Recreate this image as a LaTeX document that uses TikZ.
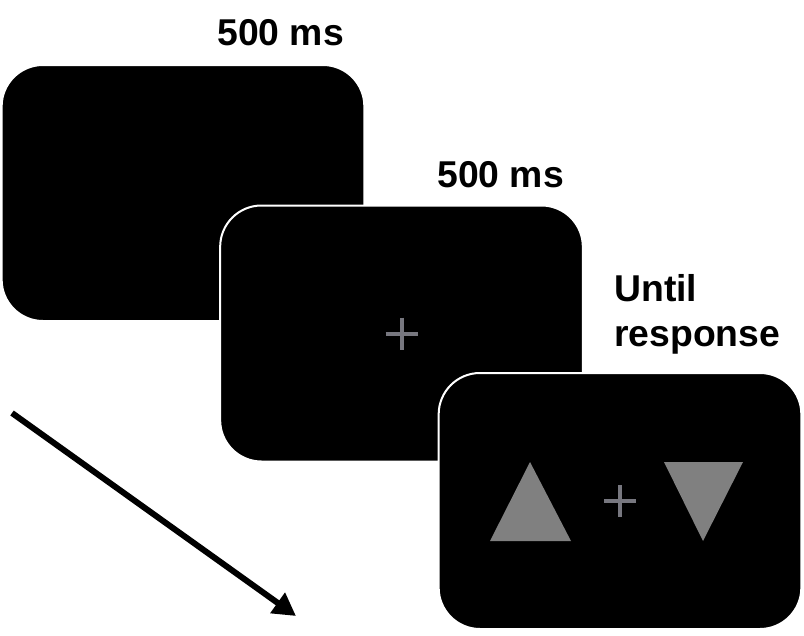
\documentclass[tikz,border=0pt]{standalone}
\usepackage{fontspec}
\setmainfont{Liberation Sans}
\usepackage{xcolor}
\usetikzlibrary{arrows.meta}
\definecolor{stim_gray}{HTML}{808080}
\definecolor{fix_gray}{HTML}{77777F}

\begin{document}
\begin{tikzpicture}[x=0.75pt, y=-0.75pt,
    screen/.style={fill=black, draw=white, line width=1.5pt, rounded corners=31pt,
      minimum width=272pt, minimum height=192pt, inner sep=0pt},
    duration/.style={font=\fontsize{28}{34}\selectfont\bfseries, inner sep=0pt},
    fixcross/.style={fix_gray, line width=3pt}]
      \useasboundingbox (0,0) rectangle (804,636);
      % Draw the three screens
      \node[screen] (blank) at (183,193) {};
      \node[screen] (fixation) at (401.5,333.5) {};
      \node[screen] (target) at (620,501) {};
      % Durations
      \node[duration, anchor=base west] (dur1) at (217,45) {500 ms};
      \node[duration, anchor=base west] (dur2) at (437,187) {500 ms};
      \node[duration, anchor=north west, align=left] (dur3) at (614,274) {Until\\response};
      % Fixation crosses
      \draw[fixcross] (fixation.center) +(-16,0) -- +(16,0);
      \draw[fixcross] (fixation.center) +(0,-16) -- +(0,16);
      \draw[fixcross] (target.center) +(-16,0) -- +(16,0);
      \draw[fixcross] (target.center) +(0,-16) -- +(0,16);
      % Triangles
      \fill[stim_gray] (target.center) +(-130,40) -- +(-49,40) -- +(-90,-39) -- cycle;
      \fill[stim_gray] (target.center) +(44,-39) -- +(123,-39) -- +(83,40) -- cycle;
      % Time arrow
      \coordinate (tstart) at (12,413);
      \coordinate (tend) at (296,616);
      \draw[line width=4.5pt, -{Triangle[length=17pt, width=18pt]}] (tstart) -- (tend);
    \end{tikzpicture}
\end{document}
